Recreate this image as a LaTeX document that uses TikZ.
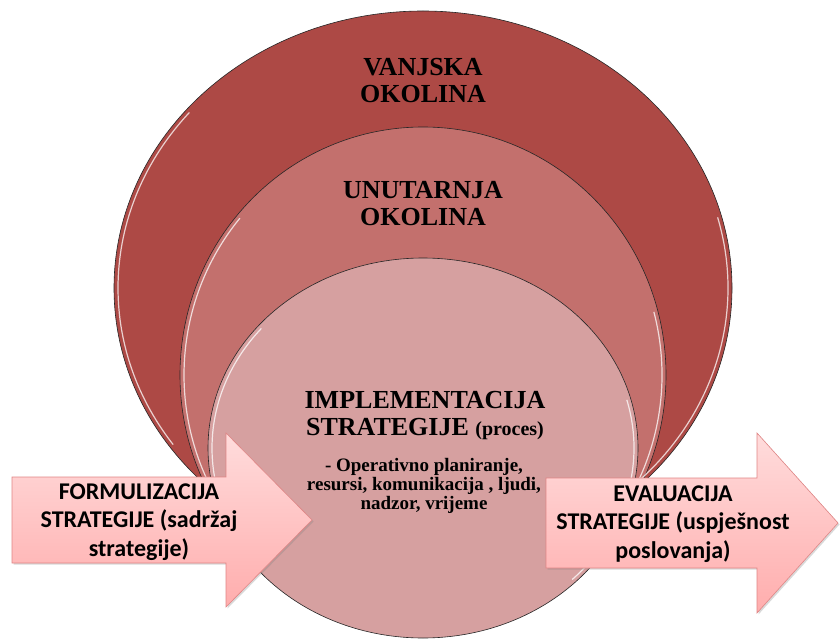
\documentclass[tikz,border=0pt]{standalone}
\usepackage{fontspec}
\setmainfont{Liberation Serif}
\newfontfamily\calfont{Carlito}
\usetikzlibrary{shapes.geometric,positioning,calc,shadows}

\definecolor{outerred}{HTML}{AD4945}
\definecolor{midred}{HTML}{C3706D}
\definecolor{innerred}{HTML}{D6A0A0}
\definecolor{arrowtop}{HTML}{FFDCDC}
\definecolor{arrowbot}{HTML}{FFADAD}
\definecolor{arrowline}{HTML}{E08585}

\begin{document}
\begin{tikzpicture}[x=1pt, y=1pt,
        ring/.style={ellipse, draw=black!85, line width=0.6pt, inner sep=0pt},
        hilite/.style={white, line width=1.2pt, opacity=0.75},
        ringtext/.style={align=center, anchor=base, font=\fontsize{26}{27}\selectfont\bfseries},
        subtext/.style={align=center, anchor=base, font=\fontsize{19}{19}\selectfont\bfseries},
        bigarrow/.style={draw=arrowline, line width=0.6pt, top color=arrowtop, bottom color=arrowbot,
            drop shadow={opacity=0.3, shadow xshift=1.5pt, shadow yshift=-1.5pt}},
        arrowtext/.style={align=center, anchor=base, font=\calfont\fontsize{24}{28.5}\selectfont\bfseries}]
        \useasboundingbox (0,0) rectangle (840,641);

        \node [ring, fill=outerred, minimum width=618pt, minimum height=554pt] (outer) at (423,353) {};
        \node [ring, fill=midred, minimum width=486pt, minimum height=496pt] (middle) at (423,266) {};
        \node [ring, fill=innerred, minimum width=430pt, minimum height=380pt] (inner) at (423,193) {};

        % bevel highlights
        \foreach \ring/\rx/\ry in {outer/305/273, middle/239/244, inner/211/186} {
            \draw[hilite] (\ring.center) ++(140:{\rx} and {\ry}) arc[start angle=140, end angle=215, x radius=\rx, y radius=\ry];
            \draw[hilite] (\ring.center) ++(-45:{\rx} and {\ry}) arc[start angle=-45, end angle=15, x radius=\rx, y radius=\ry];
        }

        \node [ringtext] (vanjska) at (423,538) {VANJSKA\\OKOLINA};
        \node [ringtext] (unutarnja) at (423,416) {UNUTARNJA\\OKOLINA};
        \node [ringtext] (impl) at (425,206) {IMPLEMENTACIJA\\STRATEGIJE {\fontsize{20}{20}\selectfont (proces)}};
        \node [subtext] (tasks) at (424,132) {- Operativno planiranje,\\resursi, komunikacija , ljudi,\\nadzor, vrijeme};

        % arrows
        \path[bigarrow] (12,164) -- (226,164) -- (226,208) -- (312,121) -- (226,34) -- (226,78) -- (12,78) -- cycle;
        \path[bigarrow] (546,163) -- (757,163) -- (757,208) -- (838,118) -- (757,28) -- (757,73) -- (546,73) -- cycle;

        \node [arrowtext] (formul) at (139,85) {FORMULIZACIJA\\STRATEGIJE (sadržaj\\strategije)};
        \node [arrowtext] (eval) at (673,83) {EVALUACIJA\\STRATEGIJE (uspješnost\\poslovanja)};
    \end{tikzpicture}
\end{document}
